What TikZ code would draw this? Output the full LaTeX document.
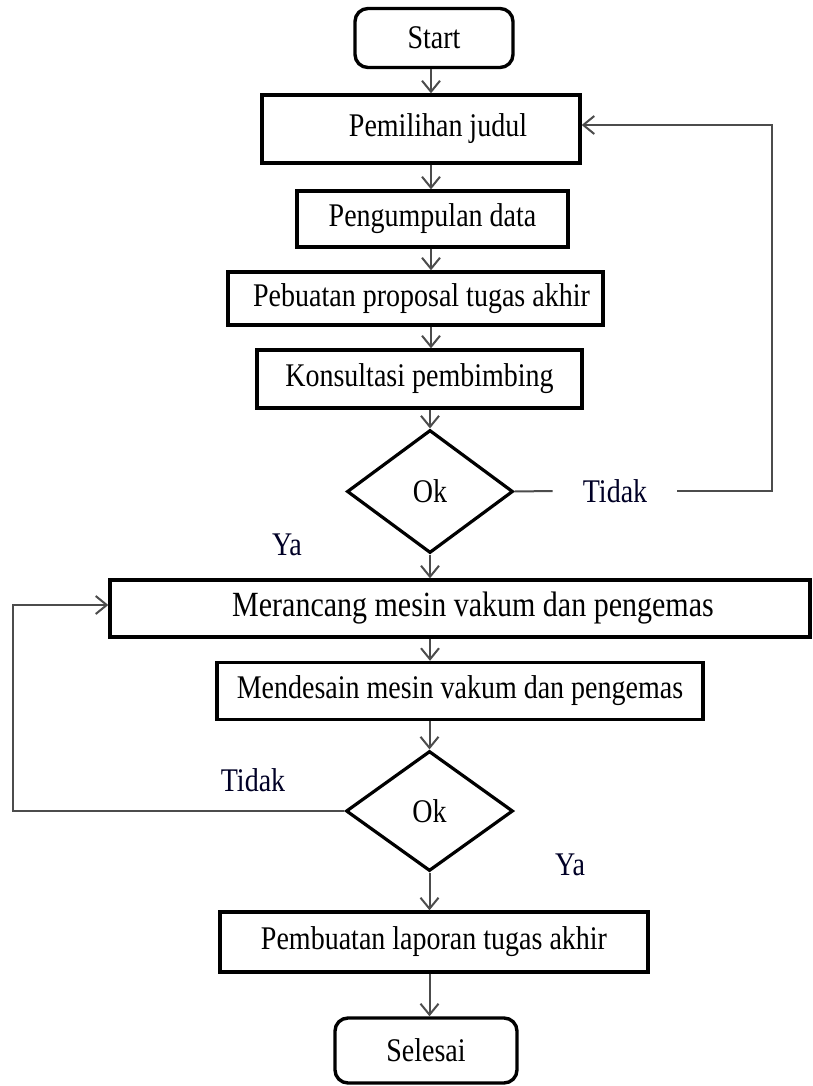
\documentclass[tikz,border=0pt]{standalone}
\usepackage{fontspec}
\usepackage{graphicx}
\setmainfont{Liberation Serif}
\newfontfamily\tms{Liberation Serif}
\newcommand{\tx}[1]{\scalebox{1}[1.18]{#1}}
\usetikzlibrary{shapes.geometric,arrows.meta}
\begin{document}
\begin{tikzpicture}[x=1pt,y=-1pt,
  font=\tms\fontsize{28}{32}\selectfont,
  box/.style={draw=black,line width=3.4pt,rectangle,inner sep=0pt,fill=white},
  term/.style={box,rounded corners=13pt},
  dec/.style={draw=black,line width=3.2pt,diamond,inner sep=0pt,fill=white},
  lbl/.style={inner sep=0pt,text=black!85!blue},
  conn/.style={draw=black!70,line width=2pt},
  arr/.style={conn,-{Straight Barb[length=11pt,width=18pt,line width=2pt]}}
]
\useasboundingbox[fill=white] (0,0) rectangle (812,1086);
\coordinate (axis) at (431,0);
% nodes
\node[term,minimum width=158pt,minimum height=59pt] (start) at (434,38) {\tx{Start}};
\node[box,minimum width=318pt,minimum height=68pt] (p1) at (421,129) {\hspace*{34pt}\tx{Pemilihan judul}};
\node[box,minimum width=271pt,minimum height=56pt] (p2) at (432.5,219) {\tx{Pengumpulan data}};
\node[box,minimum width=375pt,minimum height=53pt] (p3) at (415.5,298.5) {\hspace*{12pt}\tx{Pebuatan proposal tugas akhir}};
\node[box,minimum width=325pt,minimum height=58pt] (p4) at (419.5,379) {\tx{Konsultasi pembimbing}};
\node[dec,minimum width=166pt,minimum height=123pt] (d1) at (430,491.5) {\tx{Ok}};
\node[box,minimum width=700pt,minimum height=57pt,font=\tms\fontsize{30}{34}\selectfont] (p5) at (460,608.5) {\hspace*{26pt}\tx{Merancang mesin vakum dan pengemas}};
\node[box,minimum width=486pt,minimum height=57pt] (p6) at (460,691) {\tx{Mendesain mesin vakum dan pengemas}};
\node[dec,minimum width=167pt,minimum height=120pt] (d2) at (429.5,811) {\tx{Ok}};
\node[box,minimum width=428pt,minimum height=60pt] (p7) at (434,942) {\tx{Pembuatan laporan tugas akhir}};
\node[term,minimum width=182pt,minimum height=65pt] (end) at (426,1050.5) {\tx{Selesai}};
% labels
\node[lbl,inner xsep=30pt] (t1) at (615,491) {\tx{Tidak}};
\node[lbl] (ya1) at (287,545) {\tx{Ya}};
\node[lbl] (t2) at (253,780) {\tx{Tidak}};
\node[lbl] (ya2) at (570,865) {\tx{Ya}};
\coordinate (fb1) at (772,125);
\coordinate (fb2) at (13,811);
\coordinate (in2) at (13,605);
% connectors
\draw[arr] (start.south -| axis) -- (p1.north -| axis);
\draw[arr] (p1.south -| axis) -- (p2.north -| axis);
\draw[arr] (p2.south -| axis) -- (p3.north -| axis);
\draw[arr] (p3.south -| axis) -- (p4.north -| axis);
\draw[arr] (p4.south -| d1.north) -- (d1.north);
\draw[arr] (d1.south) -- (p5.north -| d1.south);
\draw[arr] (p5.south -| d1.south) -- (p6.north -| d1.south);
\draw[arr] (p6.south -| d2.north) -- (d2.north);
\draw[arr] (d2.south) -- (p7.north -| d2.south);
\draw[arr] (p7.south -| d2.south) -- (end.north -| d2.south);
\draw[conn] (d1.east) -- (t1.west);
\draw[arr] (t1.east) -| (fb1) -- (p1.east |- fb1);
\draw[arr] (d2.west) -- (fb2) -- (in2) -- (p5.west |- in2);
\end{tikzpicture}
\end{document}
